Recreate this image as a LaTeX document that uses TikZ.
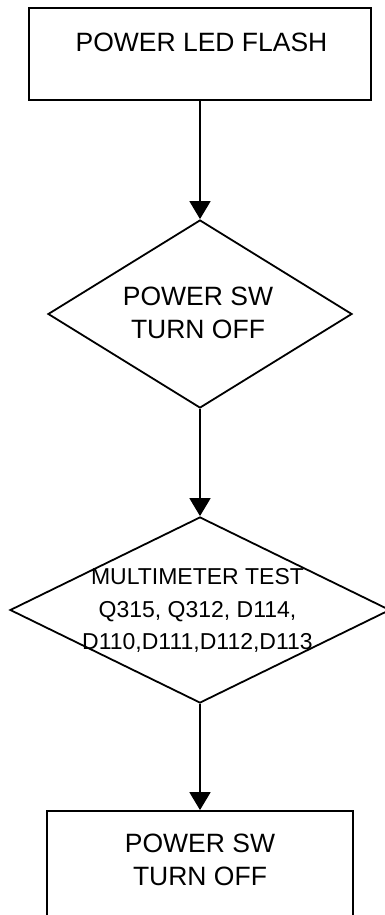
\documentclass[tikz,border=0pt]{standalone}
\usepackage{fontspec}
\setmainfont{Liberation Sans}
\usetikzlibrary{arrows.meta}
\usetikzlibrary{shapes.geometric}
\usetikzlibrary{math}

\tikzset{
  box/.style={draw, rectangle, line width=1.8, inner sep=0},
  dia/.style={draw, diamond, line width=1.8, inner sep=0},
  txt/.style={inner sep=0, align=center, font=\fontsize{26.5}{33}\selectfont},
  smalltxt/.style={inner sep=0, align=center, font=\fontsize{23}{32.5}\selectfont},
  arr/.style={-{Triangle[length=18pt,width=21pt]}, line width=1.8}
}

\begin{document}
\begin{tikzpicture}[x=1pt,y=-1pt]
\tikzmath{
\xc=200;
}
\useasboundingbox (0,0) rectangle (385,915);
\clip (0,0) rectangle (385,915);

\node[box, minimum width=342pt, minimum height=92pt] (led) at (\xc,54) {};
\node[txt] (ledtxt) at (201.5,42.5) {POWER LED FLASH};

\node[dia, minimum width=304pt, minimum height=188pt] (sw) at (\xc,314) {};
\node[txt] (swtxt) at (198,313) {POWER SW\\TURN OFF};

\node[dia, minimum width=380pt, minimum height=186pt] (meter) at (\xc,610) {};
\node[smalltxt] (metertxt) at (197.5,610.5) {MULTIMETER TEST\\Q315, Q312, D114,\\D110,D111,D112,D113};

\node[box, minimum width=306pt, minimum height=130pt] (off) at (\xc,876) {};
\node[txt] (offtxt) at (\xc,860) {POWER SW\\TURN OFF};

\draw[arr] (led) -- (sw);
\draw[arr] (sw) -- (meter);
\draw[arr] (meter) -- (off);

\end{tikzpicture}
\end{document}
